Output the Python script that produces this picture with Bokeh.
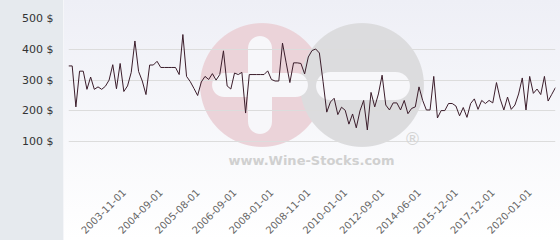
import math
from bokeh.plotting import figure
from bokeh.models import FixedTicker, Range1d, Label
from bokeh.embed import file_html
from bokeh.resources import INLINE

# ---- data ----
prices = [346, 346, 213, 329, 329, 270, 310, 270, 278, 270,
          280, 300, 350, 272, 354, 263, 281, 325, 427, 328,
          297, 253, 349, 349, 361, 341, 341, 341, 341, 341,
          318, 448, 312, 295, 273, 250, 294, 312, 302, 321,
          300, 318, 395, 281, 271, 323, 318, 325, 193, 318,
          318, 318, 318, 318, 330, 302, 297, 297, 420, 356,
          292, 356, 356, 354, 320, 375, 396, 401, 388, 295,
          196, 229, 241, 188, 212, 202, 157, 190, 145, 200,
          234, 138, 260, 213, 255, 316, 219, 203, 226, 226,
          203, 234, 191, 208, 213, 278, 234, 203, 203, 312,
          177, 201, 201, 224, 224, 216, 184, 211, 179, 224,
          239, 205, 234, 224, 234, 226, 292, 239, 203, 245,
          205, 219, 255, 307, 203, 312, 257, 271, 253, 312,
          232, 254, 276]
tick_labels = ["2003-11-01", "2004-09-01", "2005-08-01", "2006-09-01",
               "2008-01-01", "2008-11-01", "2010-01-01", "2012-09-01",
               "2014-06-01", "2015-12-01", "2017-12-01", "2020-01-01"]
first_tick = 15
tick_step = 10
y_ticks = [0, 100, 200, 300, 400, 500]

idx = list(range(len(prices)))
tick_idx = [first_tick + k * tick_step for k in range(len(tick_labels))]

# ---- background (CSS) incl. watermark shapes ----
def solid(c):
    return f"linear-gradient({c},{c})"

def disc(cx, cy, r, c):
    return f"radial-gradient(circle {r}px at {cx}px {cy}px, {c} {r-0.6}px, rgba(255,255,255,0) {r+0.4}px)"

W = "#f7f7fa"
PINK = "#ebd3d9"
GREY = "#dcdcde"
layers = [
    f"{solid('#e6eaee')} 0 0/63px 100% no-repeat",
    f"{solid('#f5f6f9')} 63px 0/1px 100% no-repeat",
    # minus sign in grey disc
    f"{solid(W)} 330px 72px/66px 28px no-repeat",
    disc(330, 86, 14, W), disc(396, 86, 14, W),
    # plus sign in pink disc
    f"{solid(W)} 248px 48px/24px 74px no-repeat",
    disc(260, 48, 12, W), disc(260, 122, 12, W),
    f"{solid(W)} 224px 73px/72px 24px no-repeat",
    disc(224, 85, 12, W), disc(296, 85, 12, W),
    disc(362, 85, 62, GREY),
    disc(262, 85, 62, PINK),
    "linear-gradient(to bottom, #eeeff6, #ffffff)",
]
bg = ", ".join(layers)

p = figure(width=560, height=240, output_backend="svg", toolbar_location=None,
           x_range=Range1d(0, len(prices) - 1), y_range=Range1d(0, 500),
           min_border_left=68, min_border_right=5, min_border_top=18,
           min_border_bottom=62, border_fill_alpha=0, background_fill_alpha=0,
           outline_line_color=None, styles={"background": bg})

p.xgrid.visible = False
p.ygrid.ticker = FixedTicker(ticks=y_ticks)
p.ygrid.grid_line_color = "#dcdcdc"

p.yaxis.ticker = FixedTicker(ticks=y_ticks)
ov = {v: f"{v} $" for v in y_ticks}
ov[0] = ""
p.yaxis.major_label_overrides = ov
p.yaxis.axis_line_color = None
p.yaxis.major_tick_line_color = None
p.yaxis.minor_tick_line_color = None
p.yaxis.major_label_standoff = 9
p.yaxis.major_label_text_font = "DejaVu Sans"
p.yaxis.major_label_text_font_size = "11px"
p.yaxis.major_label_text_color = "#333333"

p.xaxis.ticker = FixedTicker(ticks=tick_idx)
p.xaxis.major_label_overrides = {i: lab for i, lab in zip(tick_idx, tick_labels)}
p.xaxis.major_label_orientation = math.pi / 4
p.xaxis.axis_line_color = None
p.xaxis.major_tick_line_color = None
p.xaxis.minor_tick_line_color = None
p.xaxis.major_label_standoff = 12
p.xaxis.major_label_text_font = "DejaVu Sans"
p.xaxis.major_label_text_font_size = "10px"
p.xaxis.major_label_text_color = "#666666"

p.add_layout(Label(x=243, y=12, x_units="screen", y_units="screen",
                   text="www.Wine-Stocks.com", text_align="center",
                   text_baseline="middle", text_font="DejaVu Sans",
                   text_font_style="bold", text_font_size="13px",
                   text_color="#d0d0d0", level="underlay"))
p.add_layout(Label(x=344, y=34, x_units="screen", y_units="screen",
                   text="®", text_align="center", text_baseline="middle",
                   text_font="DejaVu Sans", text_font_size="17px",
                   text_color="#d4d4d4", level="underlay"))

p.line(idx, prices, line_color="#3b1d2b", line_width=1)

open("out.html", "w").write(file_html(p, INLINE))
